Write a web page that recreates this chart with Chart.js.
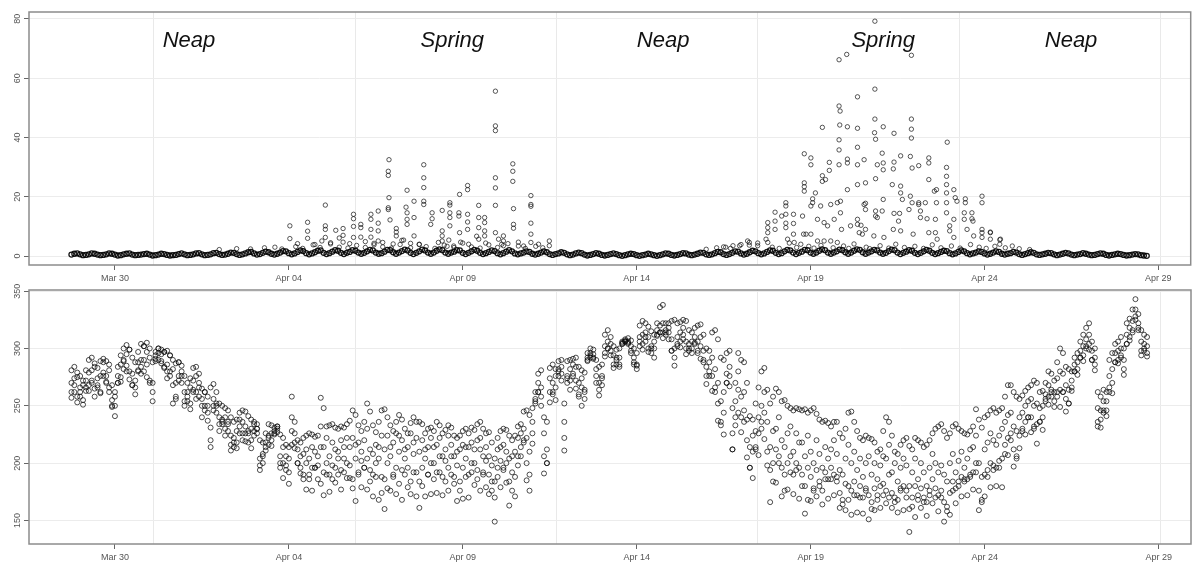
<!DOCTYPE html>
<html>
<head>
<meta charset="utf-8">
<script src="https://cdn.jsdelivr.net/npm/chart.js@4.4.1/dist/chart.umd.min.js"></script>
<style>
  body { margin: 0; background: #fff; }
  #wrap { position: relative; width: 1196px; height: 562px; }
  canvas { position: absolute; left: 0; }
</style>
</head>
<body>
<div id="wrap">
  <canvas id="speedChart" width="1196" height="283" style="top:0"></canvas>
  <canvas id="dirChart" width="1196" height="279" style="top:283px"></canvas>
</div>
<script>
// time axis: days counted from Mar 30 00:00, readings every 2 h from Mar 28 18:00
const START_DAY = -1.25;
const STEP_DAY = 1 / 12;

const dayTicks = [0, 5, 10, 15, 20, 25, 30];
const dayLabels = ["Mar 30", "Apr 04", "Apr 09", "Apr 14", "Apr 19", "Apr 24", "Apr 29"];
const gridDays = [1.12, 6.91, 12.69, 18.48, 24.27, 30.06];

const speedTicks = [0, 20, 40, 60, 80];
const dirTicks = [150, 200, 250, 300, 350];

// tide phase captions on the upper panel
const phaseNames = ["Neap", "Spring", "Neap", "Spring", "Neap"];
const phaseDays = [2.13, 9.70, 15.76, 22.09, 27.49];
const phaseLevel = 70.5;

// upper panel: background level, one row per day (12 readings)
const speedBase = [
  0.5,0.8,0.9,0.6,0.3,0.4,0.6,0.9,0.8,0.5,0.3,0.4,
  0.6,0.9,0.8,0.5,0.2,0.3,0.6,0.8,0.9,0.5,0.3,0.4,
  0.5,0.7,0.8,0.5,0.2,0.3,0.5,0.8,0.7,0.4,0.2,0.3,
  0.4,0.7,0.9,0.6,0.3,0.4,0.6,0.9,1.0,0.6,0.3,0.4,
  0.6,1.0,1.1,0.7,0.4,0.5,0.8,1.2,1.1,0.7,0.4,0.6,
  0.9,1.3,1.4,0.9,0.5,0.7,1.1,1.5,1.3,0.8,0.5,0.8,
  1.2,1.7,1.6,1.0,0.6,0.9,1.4,1.9,1.7,1.0,0.6,0.9,
  1.3,1.8,1.9,1.1,0.7,1.0,1.5,2.0,1.8,1.1,0.7,1.1,
  1.4,2.0,1.8,1.2,0.8,1.1,1.6,2.1,1.9,1.2,0.8,1.0,
  1.5,2.1,2.0,1.3,0.8,1.2,1.7,2.2,1.9,1.1,0.7,1.1,
  1.6,2.2,1.9,1.2,0.8,1.2,1.8,2.3,2.0,1.2,0.8,1.2,
  1.5,2.0,1.9,1.1,0.7,1.1,1.6,2.1,1.8,1.1,0.7,1.0,
  1.4,1.9,1.7,1.0,0.6,1.0,1.5,2.0,1.6,0.9,0.6,0.9,
  1.2,1.6,1.4,0.8,0.5,0.8,1.2,1.6,1.3,0.7,0.4,0.7,
  0.9,1.3,1.1,0.6,0.3,0.5,0.9,1.2,1.0,0.5,0.2,0.4,
  0.7,1.0,0.8,0.4,0.2,0.4,0.7,0.9,0.7,0.3,0.1,0.3,
  0.6,0.8,0.7,0.3,0.1,0.3,0.5,0.8,0.6,0.3,0.1,0.3,
  0.6,0.9,0.8,0.4,0.2,0.4,0.7,1.0,0.9,0.5,0.3,0.5,
  0.8,1.2,1.1,0.6,0.4,0.6,1.0,1.4,1.3,0.7,0.4,0.7,
  1.1,1.6,1.5,0.9,0.5,0.8,1.3,1.8,1.6,1.0,0.6,0.9,
  1.4,1.9,1.8,1.1,0.7,1.0,1.6,2.1,1.9,1.2,0.7,1.1,
  1.5,2.1,2.0,1.2,0.8,1.2,1.8,2.3,2.0,1.2,0.8,1.2,
  1.6,2.2,2.0,1.3,0.8,1.2,1.8,2.3,2.1,1.3,0.8,1.2,
  1.6,2.1,1.9,1.2,0.8,1.1,1.7,2.2,2.0,1.2,0.7,1.1,
  1.5,2.0,1.8,1.1,0.7,1.1,1.6,2.1,1.8,1.1,0.7,1.0,
  1.4,1.8,1.7,1.0,0.6,0.9,1.4,1.9,1.6,1.0,0.6,0.9,
  1.2,1.6,1.4,0.9,0.5,0.8,1.2,1.6,1.4,0.8,0.5,0.8,
  1.0,1.4,1.2,0.7,0.4,0.7,1.0,1.3,1.1,0.6,0.4,0.6,
  0.8,1.1,1.0,0.6,0.3,0.5,0.8,1.1,0.9,0.5,0.3,0.5,
  0.7,1.0,0.8,0.5,0.3,0.4,0.7,0.9,0.8,0.4,0.2,0.4,
  0.6,0.8,0.7,0.4,0.2,0.3,0.5,0.7,0.6,0.3,0.2,0.1
];

// upper panel: bursts above the background, [day, value]
const speedBursts = [
  [3.0,2.2],[3.5,2.5],[3.9,2.4],[4.3,2.8],[4.6,3.0],[4.8,2.4],
  [5.03,10.2],[5.03,5.9],[5.2,3.2],[5.25,4.2],[5.4,2.6],[5.54,11.4],[5.54,8.4],[5.54,6.0],[5.7,3.8],[5.75,3.9],[5.9,2.9],[5.95,5.1],
  [6.05,17.2],[6.05,10.2],[6.05,9.0],[6.05,6.3],[6.2,4.1],[6.2,4.5],[6.35,8.7],[6.45,3.0],[6.45,6.1],[6.56,9.3],[6.56,7.0],[6.56,4.7],
  [6.7,2.7],[6.75,4.2],[6.86,14.1],[6.86,12.6],[6.86,10.0],[6.86,6.3],[6.95,3.6],[7.07,10.7],[7.07,9.6],[7.07,6.4],[7.2,2.9],[7.2,4.9],
  [7.36,14.1],[7.36,12.4],[7.36,9.0],[7.36,6.4],[7.45,4.3],[7.45,3.8],[7.57,15.2],[7.57,11.1],[7.57,8.5],[7.57,5.1],[7.7,3.1],[7.7,4.6],
  [7.88,32.5],[7.86,28.6],[7.86,27.2],[7.88,19.7],[7.86,16.3],[7.86,15.7],[7.91,12.2],[7.95,2.7],[8.0,4.1],[8.09,9.3],[8.09,8.1],[8.09,6.8],
  [8.2,3.9],[8.25,5.3],[8.3,5.4],[8.40,22.2],[8.37,16.5],[8.40,14.6],[8.40,12.4],[8.40,10.7],[8.5,2.8],[8.5,4.3],[8.60,18.5],[8.60,13.0],[8.60,6.8],
  [8.75,4.0],[8.75,3.9],[8.88,30.8],[8.88,26.4],[8.88,23.1],[8.88,18.5],[8.88,17.4],[8.95,3.2],[9.08,10.7],[9.12,14.6],[9.12,12.6],[9.2,2.6],[9.3,4.6],
  [9.41,15.4],[9.41,8.5],[9.41,6.8],[9.41,5.1],[9.47,3.7],[9.55,3.3],[9.6,5.4],[9.63,18.0],[9.63,17.2],[9.63,14.6],[9.63,13.0],[9.63,10.2],
  [9.74,3.4],[9.75,2.9],[9.89,14.6],[9.89,13.5],[9.91,20.8],[9.91,7.9],[9.94,4.7],[10.0,4.4],[10.14,23.8],[10.14,22.4],[10.14,14.1],[10.14,11.5],[10.14,9.0],
  [10.17,4.0],[10.25,3.1],[10.4,6.7],[10.46,17.1],[10.46,13.0],[10.46,9.6],[10.46,5.7],[10.5,2.7],[10.63,13.0],[10.63,11.3],[10.63,8.5],[10.63,6.8],[10.66,4.4],
  [10.75,3.8],[10.94,55.6],[10.94,43.9],[10.94,42.3],[10.94,26.4],[10.94,23.0],[10.94,17.1],[10.94,7.9],[11.0,2.9],[11.03,5.7],[11.12,4.0],
  [11.17,6.8],[11.17,5.1],[11.17,3.5],[11.3,4.2],[11.44,31.1],[11.44,28.6],[11.44,25.2],[11.46,16.0],[11.46,10.7],[11.46,9.4],[11.6,3.4],[11.6,4.7],
  [11.75,3.4],[11.8,2.6],[11.96,20.4],[11.96,17.4],[11.96,16.8],[11.96,11.1],[11.96,7.4],[11.96,4.6],[12.1,3.3],[12.18,4.0],[12.3,2.8],[12.49,5.1],[12.49,3.5],
  [17.0,2.3],[17.3,2.8],[17.5,3.1],[17.56,3.0],[17.7,2.6],[17.77,3.5],[17.96,3.5],[18.0,3.9],[18.19,5.1],[18.24,4.6],[18.24,3.7],[18.48,4.4],[18.48,3.5],
  [18.72,5.7],[18.77,11.3],[18.77,9.6],[18.77,7.9],[18.77,4.6],[18.9,3.0],[18.98,14.8],[18.98,11.8],[18.98,9.0],[19.1,2.6],[19.17,13.5],
  [19.29,18.0],[19.29,16.9],[19.29,14.1],[19.29,11.1],[19.29,9.6],[19.34,5.7],[19.39,4.4],[19.51,14.1],[19.51,11.0],[19.51,7.4],[19.53,4.6],[19.6,2.9],
  [19.72,4.0],[19.77,13.5],[19.80,7.4],[19.82,34.5],[19.82,24.7],[19.82,23.4],[19.82,21.9],[19.87,7.4],[19.95,3.3],[20.01,33.1],[20.01,30.8],[20.01,16.9],[20.01,7.4],
  [20.06,19.3],[20.06,18.0],[20.1,2.7],[20.14,21.3],[20.20,12.4],[20.20,5.1],[20.29,16.9],[20.3,3.6],[20.34,43.4],[20.34,27.1],[20.34,25.2],[20.39,11.3],[20.39,5.1],
  [20.43,25.8],[20.49,10.2],[20.54,31.6],[20.54,28.9],[20.58,17.4],[20.58,5.1],[20.65,2.8],[20.68,12.4],[20.77,18.0],[20.77,4.6],
  [20.82,66.2],[20.82,50.6],[20.85,48.9],[20.84,44.2],[20.82,39.2],[20.82,35.8],[20.82,30.8],[20.86,18.5],[20.86,14.6],[20.89,9.0],[20.95,3.4],
  [21.04,68.0],[21.06,43.6],[21.06,32.7],[21.06,31.4],[21.06,22.4],[21.1,2.6],[21.15,10.2],[21.25,4.1],
  [21.35,53.7],[21.35,43.1],[21.35,36.7],[21.35,30.8],[21.35,24.1],[21.35,12.4],[21.35,10.7],[21.40,7.9],[21.45,10.4],[21.49,7.4],
  [21.54,32.5],[21.54,17.4],[21.58,24.7],[21.58,17.8],[21.58,15.7],[21.58,9.0],[21.6,3.0],[21.7,2.5],[21.82,6.8],[21.84,41.6],
  [21.85,79.2],[21.85,56.3],[21.85,46.2],[21.87,39.4],[21.87,26.1],[21.87,15.2],[21.87,13.5],[21.92,30.8],[21.92,13.0],[22.0,3.5],
  [22.06,34.7],[22.06,15.2],[22.09,43.6],[22.09,31.4],[22.09,29.1],[22.09,19.1],[22.11,6.3],[22.25,2.7],[22.35,24.1],[22.38,29.4],[22.38,9.0],
  [22.40,41.4],[22.40,31.7],[22.40,14.4],[22.45,4.0],[22.53,11.8],[22.56,14.4],[22.59,33.8],[22.59,23.6],[22.59,21.3],[22.59,8.5],[22.64,19.1],[22.7,2.9],
  [22.83,15.7],[22.87,33.6],[22.87,20.2],[22.90,67.7],[22.90,46.2],[22.90,42.8],[22.90,39.8],[22.92,29.7],[22.92,18.0],[22.95,7.4],[23.0,3.3],
  [23.11,30.5],[23.11,18.0],[23.11,17.4],[23.16,15.2],[23.16,13.0],[23.25,2.6],[23.30,18.0],[23.35,12.6],[23.40,33.1],[23.40,31.4],[23.40,25.8],[23.40,7.9],
  [23.5,3.8],[23.56,21.9],[23.59,12.4],[23.59,7.9],[23.62,22.4],[23.62,18.0],[23.64,5.7],[23.75,2.8],
  [23.91,29.9],[23.91,26.9],[23.91,24.1],[23.91,21.3],[23.91,18.0],[23.91,14.6],[23.93,38.4],[24.00,10.2],[24.00,8.5],[24.05,3.4],
  [24.12,22.4],[24.12,12.4],[24.12,6.3],[24.16,19.7],[24.21,18.5],[24.3,2.7],[24.42,14.6],[24.42,12.4],[24.45,19.3],[24.45,18.0],[24.50,9.0],
  [24.6,3.9],[24.64,14.6],[24.64,12.6],[24.67,11.8],[24.69,6.8],[24.85,3.0],[24.93,20.2],[24.93,18.0],[24.93,9.0],[24.93,7.9],[24.93,6.3],
  [25.05,2.6],[25.17,8.1],[25.17,7.9],[25.17,5.7],[25.3,3.3],[25.44,5.5],[25.44,4.0],[25.46,5.7],[25.6,2.8],[25.8,3.4],[26.0,2.5],[26.3,2.2]
];

// lower panel: four readings per time step, one row per day
const dirUpper = [
  281,284,279,276,272,281,290,292,287,283,289,291,
  289,286,268,262,284,294,300,303,299,292,288,297,
  304,302,305,300,288,297,300,299,297,298,294,290,
  287,288,285,276,270,274,283,284,278,265,262,258,
  266,269,262,252,250,248,246,240,236,238,244,246,
  245,241,238,236,234,220,218,226,234,233,231,232,
  225,222,216,214,258,236,220,218,222,224,226,225,
  223,224,257,248,232,233,234,231,230,232,231,234,
  237,246,242,233,228,236,252,245,233,227,236,246,
  247,240,233,228,236,242,238,230,226,235,240,236,
  236,234,226,230,231,228,236,233,226,229,233,231,
  224,222,224,228,230,226,231,229,234,236,230,226,
  227,218,204,222,228,230,229,224,220,224,232,234,
  245,246,242,248,262,278,281,240,236,283,286,282,
  289,290,252,289,290,291,292,284,281,279,296,300,
  299,290,284,286,312,316,310,302,299,300,306,308,
  309,307,300,296,320,324,322,319,315,312,322,336,
  338,322,322,324,325,322,323,325,324,316,314,318,
  320,321,312,300,298,314,316,308,292,290,296,298,
  248,270,296,290,288,270,241,238,252,266,280,283,
  264,252,258,265,262,254,255,250,248,246,248,247,
  246,247,244,246,248,243,238,236,237,235,232,236,
  236,226,222,230,244,245,236,228,222,220,224,222,
  221,218,210,212,228,240,236,224,210,208,216,220,
  222,215,212,222,220,218,214,216,220,226,230,232,
  234,228,222,226,232,234,230,228,226,225,228,232,
  247,238,231,240,242,246,248,244,246,248,258,268,
  268,262,258,256,259,263,266,268,272,270,262,263,
  270,280,278,272,288,300,296,284,282,280,292,296,
  306,312,318,322,306,300,262,258,264,262,290,296,
  304,306,310,300,322,326,334,343,330,316,312,310
];
const dirUpperMid = [
  270,262,275,258,268,263,279,270,284,266,276,288,
  276,281,255,250,270,286,290,285,299,278,272,288,
  290,302,286,292,270,291,300,289,297,286,294,268,
  270,288,276,262,254,266,272,262,270,250,262,244,
  231,256,250,240,234,240,228,224,214,228,232,236,
  232,226,220,234,226,204,208,218,224,226,226,232,
  206,214,198,204,240,226,212,206,208,212,204,214,
  210,198,232,214,222,206,218,212,204,220,214,222,
  214,222,204,218,202,220,230,212,208,216,204,224,
  212,224,206,218,226,210,220,204,214,226,208,222,
  210,220,204,214,222,200,216,222,206,212,224,206,
  206,198,212,216,204,214,218,200,220,212,206,214,
  206,198,184,212,202,216,210,204,192,210,222,226,
  230,222,210,236,256,270,266,226,212,274,270,276,
  282,278,236,276,282,278,284,270,266,262,292,296,
  295,276,270,274,302,306,298,294,286,292,305,306,
  306,298,292,286,310,312,306,310,302,300,316,320,
  322,316,314,308,300,310,314,312,306,304,306,310,
  306,302,298,284,280,292,282,270,254,244,278,284,
  226,254,264,258,246,238,214,210,228,240,250,262,
  236,214,228,230,240,220,214,226,232,210,226,218,
  218,206,224,210,200,220,208,196,214,204,212,220,
  208,194,190,204,216,200,210,194,204,188,200,206,
  190,200,186,198,206,204,216,192,200,184,196,204,
  198,180,192,204,186,200,192,180,196,208,200,192,
  198,190,184,200,208,192,202,210,196,204,212,214,
  224,200,188,212,218,226,220,216,224,230,236,242,
  244,232,228,240,244,250,254,256,250,252,248,250,
  260,268,264,262,274,280,278,268,264,272,286,288,
  298,302,308,312,298,292,248,246,254,254,276,282,
  296,298,300,290,312,318,324,334,322,306,304,302
];
const dirLowerMid = [
  262,274,258,266,255,272,268,281,265,274,262,279,
  270,266,249,258,276,275,282,295,280,268,266,280,
  284,280,297,272,262,294,290,295,284,280,276,282,
  256,276,280,254,262,252,264,276,258,256,246,250,
  220,250,244,234,238,230,236,216,222,218,238,226,
  226,218,230,228,230,198,200,214,216,220,228,227,
  196,200,206,192,228,218,200,196,190,200,186,196,
  196,206,214,192,200,190,198,196,210,194,204,200,
  198,186,216,192,210,196,204,194,190,200,214,188,
  186,200,214,190,196,224,194,212,196,184,218,192,
  184,196,212,190,200,214,192,206,188,202,196,216,
  188,210,184,196,214,190,200,212,194,222,190,202,
  190,176,170,196,214,196,200,184,206,188,206,214,
  220,200,190,226,254,262,258,206,200,262,260,266,
  276,284,222,270,272,286,272,260,274,256,290,294,
  292,282,264,268,296,300,304,286,292,286,304,307,
  305,302,288,282,306,304,314,300,296,306,312,314,
  314,312,318,298,292,304,306,318,300,298,300,304,
  298,310,288,276,288,276,266,252,236,262,270,276,
  212,240,280,240,262,220,196,224,212,226,236,244,
  210,194,200,212,206,196,190,200,206,190,200,196,
  190,180,196,188,176,194,184,176,192,186,196,190,
  188,174,168,182,180,176,184,172,180,170,178,172,
  166,178,172,180,182,176,190,174,170,168,178,180,
  176,160,170,180,168,178,170,166,176,186,178,172,
  176,166,162,174,184,178,184,188,184,186,190,192,
  200,176,168,190,194,200,198,196,202,204,216,222,
  226,212,206,224,230,236,240,240,232,234,236,240,
  254,258,258,254,262,264,262,256,252,266,280,282,
  292,294,300,304,290,286,236,238,246,246,266,270,
  288,290,292,282,304,310,314,328,316,298,298,296
];
const dirLower = [
  257,268,253,262,251,266,263,272,258,268,261,276,
  271,262,250,241,270,271,289,280,273,268,260,281,
  278,290,275,270,254,289,296,287,283,274,280,252,
  258,272,270,250,258,247,262,256,266,240,250,237,
  214,246,252,228,236,224,234,211,218,213,226,220,
  219,228,213,224,230,194,206,211,222,215,225,230,
  200,187,194,182,216,213,200,191,186,177,190,176,
  196,186,182,172,190,175,186,183,190,177,192,187,
  187,178,167,190,179,196,177,184,171,188,168,174,
  160,178,176,188,173,182,168,190,179,173,192,171,
  161,180,171,190,173,186,174,192,172,184,176,190,
  182,167,176,169,188,170,192,181,186,176,192,179,
  173,184,149,188,179,194,183,163,176,171,198,206,
  218,185,176,217,252,262,250,191,200,253,262,255,
  280,272,211,274,264,276,265,258,250,264,289,292,
  291,270,259,276,293,300,294,283,290,284,304,306,
  304,296,286,285,302,299,310,297,300,292,311,314,
  309,314,308,298,285,302,301,308,295,300,296,305,
  296,291,290,269,276,263,262,237,233,225,270,267,
  212,233,244,227,236,205,196,187,214,207,230,221,
  198,166,184,183,200,171,176,177,192,173,194,169,
  180,156,168,167,178,171,180,164,186,169,186,172,
  184,161,164,159,168,155,172,157,170,156,176,151,
  160,159,168,161,172,165,170,161,166,157,176,159,
  170,140,162,153,172,161,166,154,172,165,170,158,
  170,149,158,155,176,165,180,171,186,172,188,177,
  192,159,166,171,188,179,194,180,196,179,208,207,
  220,197,204,213,228,225,240,227,230,217,236,229,
  256,251,262,249,258,249,262,245,252,263,280,277,
  292,289,302,299,290,281,232,231,244,241,262,261,
  288,287,294,277,304,307,316,325,318,294,300,293
];

const toPoints = (vals) => vals.map((v, i) => ({ x: START_DAY + i * STEP_DAY, y: v }));

const tickFont = { family: "'Liberation Sans', Arial, sans-serif", size: 9 };

const pointStyle = {
  showLine: false,
  pointStyle: "circle",
  pointRadius: 2.2,
  pointBorderWidth: 1,
  pointBorderColor: "rgba(10,10,10,0.68)",
  pointBackgroundColor: "rgba(0,0,0,0)"
};
// the background level reads as a solid dark band
const baseStyle = Object.assign({}, pointStyle, {
  pointRadius: 2.5,
  pointBorderWidth: 1.3,
  pointBorderColor: "rgba(0,0,0,0.9)"
});
// slightly bigger rings in the lower cloud
const cloudStyle = Object.assign({}, pointStyle, {
  pointRadius: 2.5,
  pointBorderColor: "rgba(10,10,10,0.72)"
});

// shared time axis: labels every 5 days, light grid on its own spacing
const makeX = () => ({
  type: "linear",
  min: -2.47,
  max: 30.93,
  afterBuildTicks: (s) => {
    s.ticks = dayTicks.concat(gridDays).sort((a, b) => a - b).map((v) => ({ value: v }));
  },
  afterFit: (s) => { s.height = 18; },
  ticks: {
    autoSkip: false,
    maxRotation: 0,
    padding: 3,
    color: "#555",
    font: tickFont,
    callback: (v) => {
      const k = dayTicks.indexOf(v);
      return k < 0 ? "" : dayLabels[k];
    }
  },
  grid: {
    color: (c) => (c.tick && gridDays.includes(c.tick.value) ? "#e9e9e9" : "rgba(0,0,0,0)"),
    tickColor: (c) => (c.tick && dayTicks.includes(c.tick.value) ? "#666" : "rgba(0,0,0,0)"),
    tickLength: 5,
    lineWidth: 1
  },
  border: { display: false }
});

const makeY = (min, max, values, pad) => ({
  min: min,
  max: max,
  afterBuildTicks: (s) => { s.ticks = values.map((v) => ({ value: v })); },
  afterFit: (s) => { s.width = 29; },
  ticks: {
    minRotation: 90,
    maxRotation: 90,
    crossAlign: "center",
    padding: pad,
    color: "#555",
    font: tickFont
  },
  grid: { color: "#ececec", tickColor: "#666", tickLength: 5, lineWidth: 1 },
  border: { display: false }
});

// grey frame round the plotting region
const frame = {
  id: "frame",
  afterDraw(chart) {
    const { ctx, chartArea: a } = chart;
    ctx.save();
    ctx.strokeStyle = "#8c8c8c";
    ctx.lineWidth = 1.5;
    ctx.strokeRect(a.left, a.top, a.right - a.left, a.bottom - a.top);
    ctx.restore();
  }
};

// Neap / Spring captions
const phaseText = {
  id: "phaseText",
  afterDatasetsDraw(chart) {
    const { ctx, scales } = chart;
    ctx.save();
    ctx.font = "italic 22px 'Liberation Sans', Arial, sans-serif";
    ctx.fillStyle = "#111";
    ctx.textAlign = "center";
    ctx.textBaseline = "alphabetic";
    phaseDays.forEach((d, i) => {
      ctx.fillText(phaseNames[i], scales.x.getPixelForValue(d), scales.y.getPixelForValue(phaseLevel));
    });
    ctx.restore();
  }
};

const baseOptions = (padTop, y) => ({
  responsive: false,
  animation: false,
  layout: { padding: { top: padTop, right: 3, left: 0, bottom: 0 } },
  plugins: { legend: { display: false }, tooltip: { enabled: false } },
  scales: { x: makeX(), y: y }
});

new Chart(document.getElementById("speedChart"), {
  type: "scatter",
  data: {
    datasets: [
      Object.assign({ data: speedBursts.map((p) => ({ x: p[0], y: p[1] })) }, pointStyle),
      Object.assign({ data: toPoints(speedBase) }, baseStyle)
    ]
  },
  options: baseOptions(12, makeY(-3, 82.3, speedTicks, 1)),
  plugins: [frame, phaseText]
});

new Chart(document.getElementById("dirChart"), {
  type: "scatter",
  data: {
    datasets: [
      Object.assign({ data: toPoints(dirUpper) }, cloudStyle),
      Object.assign({ data: toPoints(dirUpperMid) }, cloudStyle),
      Object.assign({ data: toPoints(dirLowerMid) }, cloudStyle),
      Object.assign({ data: toPoints(dirLower) }, cloudStyle)
    ]
  },
  options: baseOptions(7, makeY(129.5, 351, dirTicks, -1.5)),
  plugins: [frame]
});
</script>
</body>
</html>
